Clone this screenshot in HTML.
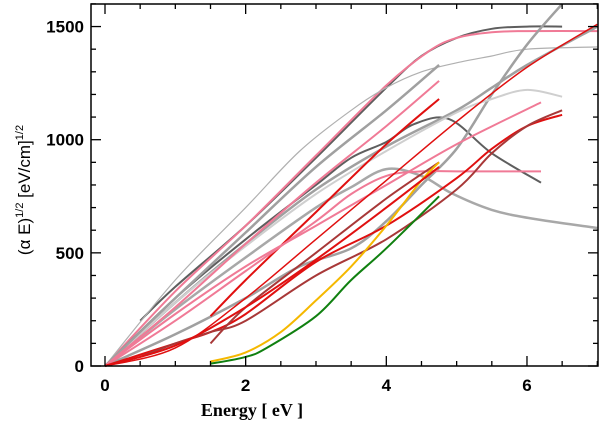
<!DOCTYPE html>
<html><head><meta charset="utf-8"><style>
html,body{margin:0;padding:0;background:#fff;width:600px;height:425px;overflow:hidden}
svg{display:block}
text{font-family:"Liberation Sans",sans-serif;font-weight:bold;fill:#000}
</style></head><body>
<svg id="chart" width="600" height="425">
<g id="series"></g>
<rect x="91" y="4" width="507" height="362" fill="none" stroke="#000" stroke-width="1.5"/>
<g id="axes"></g>
<text x="252" y="416" text-anchor="middle" style="font-family:'Liberation Serif',serif;font-size:18px">Energy [ eV ]</text>
<text transform="translate(30,190) rotate(-90)" text-anchor="middle" style="font-size:17px;font-weight:normal">(α E)<tspan dy="-7" font-size="11">1/2</tspan><tspan dy="7"> [eV/cm]</tspan><tspan dy="-7" font-size="11">1/2</tspan></text>
</svg>
<script>
const xTicks=[0,2,4,6];
const yTicks=[0,500,1000,1500];
const seriesColors=["#5e5e5e","#f07a96","#b0b0b0","#5e5e5e","#a0a0a0","#a0a0a0","#a8a8a8","#cfcfcf","#a0a0a0","#f07a96","#e01010","#f07a96","#f07a96","#e01010","#e01010","#a83838","#a83838","#f5b800","#108010","#e01010"];
const s0=[[0.5,200],[1,350],[2,620],[3,920],[4,1230],[4.5,1370],[5,1450],[5.5,1490],[6,1500],[6.5,1500]];
const s1=[[0,0],[1,330],[2,620],[3,930],[4,1240],[4.6,1390],[5,1450],[5.5,1475],[6,1480],[7,1480]];
const s2=[[0,0],[1,380],[2,700],[2.77,950],[3.5,1130],[4,1230],[4.5,1300],[5,1340],[5.5,1370],[6,1400],[7,1410]];
const s3=[[0,0],[1,300],[2,560],[3,800],[3.5,920],[4,990],[4.4,1070],[4.9,1090],[5.5,940],[6.2,810]];
const s4=[[0,0],[1,280],[2,540],[3,780],[4,970],[5,1130],[5.5,1230],[6,1330],[7,1500]];
const s5=[[0,0],[1,140],[2,300],[2.77,440],[3.5,520],[4,640],[4.5,800],[5,960],[5.5,1200],[6,1420],[6.5,1600]];
const s6=[[0,0],[1,250],[2,480],[3,700],[3.5,790],[4,870],[4.5,840],[4.93,763],[5.5,690],[6.1,650],[7,610]];
const s7=[[0,0],[1,280],[2,530],[3,760],[4,950],[5,1120],[5.5,1180],[6,1220],[6.5,1190]];
const s8=[[0,0],[1,300],[2,590],[3,880],[4,1130],[4.75,1330]];
const s9=[[0,0],[1,260],[2,540],[3,810],[4,1060],[4.75,1260]];
const s10=[[1.5,220],[2,380],[3,680],[4,980],[4.75,1180]];
const s11=[[0,0],[1,230],[2,440],[3,620],[4,800],[5,980],[6.2,1165]];
const s12=[[0,0],[1,200],[2,420],[3,640],[3.5,760],[4,840],[4.5,860],[5,860],[6.2,860]];
const s13=[[0,0],[1,80],[2,300],[3,560],[4,820],[5,1080],[6,1320],[7,1510]];
const s14=[[0,0],[1,100],[1.5,150],[2,230],[3,460],[4,620],[5,830],[5.5,960],[6,1060],[6.5,1110]];
const s15=[[0.5,40],[1,100],[1.5,150],[2,200],[3,400],[4,560],[5,780],[5.5,940],[6,1060],[6.5,1130]];
const s16=[[1.5,100],[2,260],[3,500],[4,740],[4.75,900]];
const s17=[[1.5,20],[2,60],[2.5,150],[3,290],[3.5,440],[4,620],[4.5,820],[4.75,900]];
const s18=[[1.5,10],[2,40],[2.3,80],[3,220],[3.5,380],[4,520],[4.75,750]];
const s19=[[0,0],[1,90],[2,260],[3,470],[4,700],[4.75,880]];
const allSeries=[s0,s1,s2,s3,s4,s5,s6,s7,s8,s9,s10,s11,s12,s13,s14,s15,s16,s17,s18,s19];
const widths=[2,2,1.2,2,2.5,2.5,2.5,2,2.5,2,2,2,2,1.5,2,2,2,2,2,2];

const X=e=>105+e*70.33;
const Y=v=>366-v*0.2263;
const NS="http://www.w3.org/2000/svg";
const sg=document.getElementById('series');
allSeries.forEach((s,i)=>{
  const pts=s.map(d=>[X(d[0]),Y(Math.min(d[1],1600))]);
  let dstr='M'+pts[0][0].toFixed(1)+','+pts[0][1].toFixed(1);
  for(let k=0;k<pts.length-1;k++){
    const p0=pts[k-1]||pts[k],p1=pts[k],p2=pts[k+1],p3=pts[k+2]||p2;
    const c1=[p1[0]+(p2[0]-p0[0])/6,p1[1]+(p2[1]-p0[1])/6];
    const c2=[p2[0]-(p3[0]-p1[0])/6,p2[1]-(p3[1]-p1[1])/6];
    dstr+=' C'+c1[0].toFixed(1)+','+c1[1].toFixed(1)+' '+c2[0].toFixed(1)+','+c2[1].toFixed(1)+' '+p2[0].toFixed(1)+','+p2[1].toFixed(1);
  }
  const p=document.createElementNS(NS,'path');
  p.setAttribute('d',dstr);
  p.setAttribute('fill','none');
  p.setAttribute('stroke',seriesColors[i]);
  p.setAttribute('stroke-width',widths[i]);
  
  
  sg.appendChild(p);
});
const ag=document.getElementById('axes');
function line(x1,y1,x2,y2,name){
  const l=document.createElementNS(NS,'line');
  l.setAttribute('x1',x1);l.setAttribute('y1',y1);l.setAttribute('x2',x2);l.setAttribute('y2',y2);
  l.setAttribute('stroke','#000');l.setAttribute('stroke-width','1.3');
  
  
  ag.appendChild(l);
}
for(let e=0;e<=7;e+=0.5){
  const major=xTicks.includes(e);const len=major?10:5;
  line(X(e),366,X(e),366-len,'x-tick');
  line(X(e),4,X(e),4+len,'x-tick-top');
}
for(let v=0;v<=1600;v+=100){
  const major=yTicks.includes(v);const len=major?10:5;
  line(91,Y(v),91+len,Y(v),'y-tick');
  line(598,Y(v),598-len,Y(v),'y-tick-right');
}
xTicks.forEach(e=>{
  const t=document.createElementNS(NS,'text');
  t.setAttribute('x',X(e));t.setAttribute('y',391);t.setAttribute('text-anchor','middle');
  t.setAttribute('font-size','17');t.textContent=e;
  
  
  ag.appendChild(t);
});
yTicks.forEach(v=>{
  const t=document.createElementNS(NS,'text');
  t.setAttribute('x',84);t.setAttribute('y',Y(v)+6);t.setAttribute('text-anchor','end');
  t.setAttribute('font-size','17');t.textContent=v;
  
  
  ag.appendChild(t);
});
</script>
</body></html>
